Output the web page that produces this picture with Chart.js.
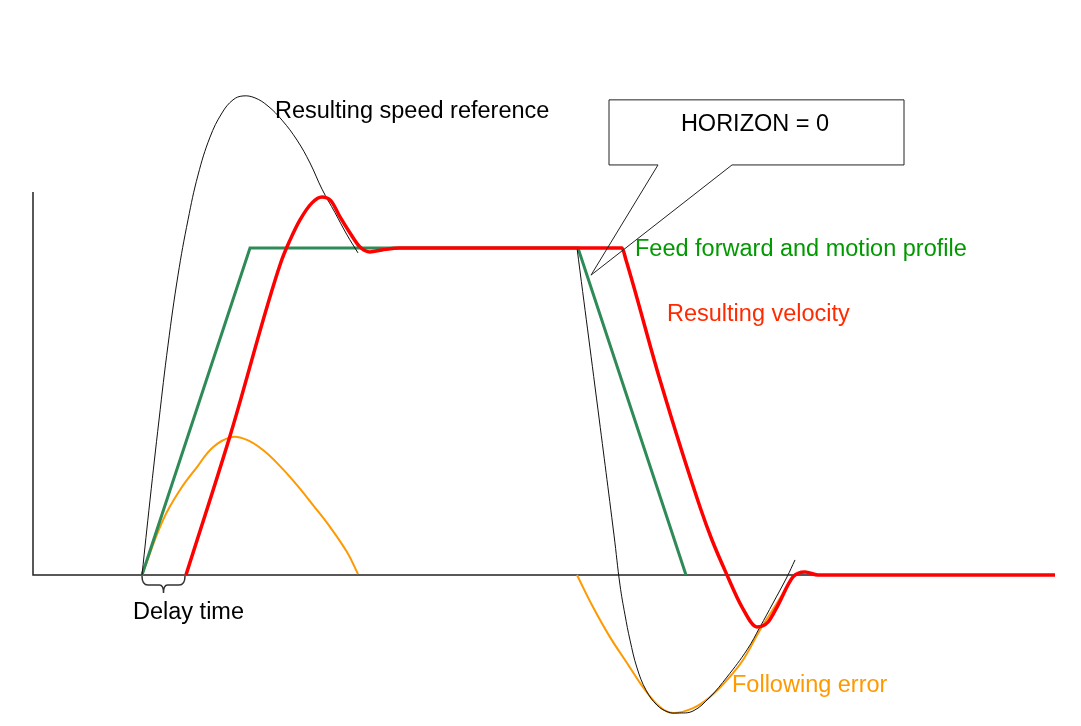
<!DOCTYPE html>
<html lang="en">
<head>
    <meta charset="UTF-8">
    <title>Feed forward, HORIZON = 0</title>
    <script src="https://cdn.jsdelivr.net/npm/chart.js@4.4.3/dist/chart.umd.min.js"></script>
    <style>
        html, body { margin: 0; padding: 0; background: #fff; }
        canvas { display: block; }
    </style>
</head>
<body>
    <canvas id="chart" width="1081" height="726"></canvas>

    <script>
        // time (arbitrary units) and velocity (1 = plateau speed)
        const feedT = [109, 217, 545, 653];
        const feedV = [0, 1, 1, 0];

        const velocityT = [153, 197, 248, 257, 267, 279, 289, 298, 307, 317, 327, 337, 349, 367,
                           589, 593, 627, 667, 679, 694, 709, 724, 735, 744, 760, 772, 785, 1022];
        const velocityV = [0, 0.425, 0.957, 1.024, 1.086, 1.138, 1.156, 1.144, 1.095, 1.046, 1.003, 0.988, 0.994, 1,
                           1, 0.963, 0.596, 0.208, 0.107, 0, -0.098, -0.159, -0.144, -0.098, -0.006, 0.009, 0, 0];

        // speed reference: accel part, gap (hidden under velocity), decel part
        const speedRefT = [109, 117, 126, 135, 145, 155, 165, 177, 189, 200, 210, 222, 235, 249, 264, 277, 289, 302, 314, 325,
                           null,
                           544, 565, 581, 587, 592, 597, 604, 613, 624, 635, 644, 660, 677, 694, 714, 727, 740, 754, 762];
        const speedRefV = [0, 0.229, 0.474, 0.703, 0.917, 1.086, 1.223, 1.339, 1.413, 1.453, 1.465, 1.459, 1.434, 1.391, 1.330, 1.260, 1.180, 1.108, 1.040, 0.985,
                           null,
                           1, 0.505, 0.122, -0.031, -0.122, -0.199, -0.284, -0.352, -0.398, -0.419, -0.422, -0.416, -0.373, -0.312, -0.229, -0.159, -0.086, -0.006, 0.046];

        const errorT = [109, 130, 147, 164, 180, 199, 214, 230, 247, 264, 280, 297, 314, 325,
                        null,
                        544, 560, 577, 594, 610, 627, 640, 660, 677, 694, 710, 727, 744, 760];
        const errorV = [0, 0.168, 0.260, 0.330, 0.391, 0.422, 0.413, 0.382, 0.333, 0.275, 0.214, 0.147, 0.070, 0.003,
                        null,
                        0, -0.098, -0.190, -0.269, -0.343, -0.404, -0.422, -0.407, -0.373, -0.321, -0.260, -0.168, -0.086, -0.006];

        const axisT = [0, 0, 1022];
        const axisV = [1.171, 0, 0];

        const textLabels = [
            { text: 'Resulting speed reference', t: 242, v: 1.398, color: '#000000', align: 'left' },
            { text: 'HORIZON = 0', t: 722, v: 1.358, color: '#000000', align: 'center' },
            { text: 'Feed forward and motion profile', t: 602, v: 0.976, color: '#009900', align: 'left' },
            { text: 'Resulting velocity', t: 634, v: 0.777, color: '#ff2a00', align: 'left' },
            { text: 'Following error', t: 699, v: -0.358, color: '#ff9900', align: 'left' },
            { text: 'Delay time', t: 100, v: -0.135, color: '#000000', align: 'left' }
        ];

        // callout box outline
        const calloutT = [576, 871, 871, 699, 558, 625, 576];
        const calloutV = [1.453, 1.453, 1.254, 1.254, 0.917, 1.254, 1.254];

        // delay brace spans from reference start to velocity start
        const braceT = [109, 152];

        function toPoints(ts, vs) {
            return ts.map((t, i) => (t === null ? { x: null, y: null } : { x: t, y: vs[i] }));
        }

        const overlayPlugin = {
            id: 'overlay',
            afterDatasetsDraw(chart) {
                const ctx = chart.ctx;
                const xs = chart.scales.x;
                const ys = chart.scales.y;

                // callout
                ctx.save();
                ctx.beginPath();
                calloutT.forEach((t, i) => {
                    const px = xs.getPixelForValue(t);
                    const py = ys.getPixelForValue(calloutV[i]);
                    if (i === 0) ctx.moveTo(px, py); else ctx.lineTo(px, py);
                });
                ctx.closePath();
                ctx.strokeStyle = '#222';
                ctx.lineWidth = 1;
                ctx.stroke();
                ctx.restore();

                // brace under the axis
                const x0 = xs.getPixelForValue(braceT[0]);
                const x1 = xs.getPixelForValue(braceT[1]);
                const y0 = ys.getPixelForValue(0) + 1;
                const xm = (x0 + x1) / 2;
                ctx.save();
                ctx.beginPath();
                ctx.moveTo(x0, y0);
                ctx.quadraticCurveTo(x0, y0 + 9, x0 + 6, y0 + 9);
                ctx.lineTo(xm - 4, y0 + 9);
                ctx.quadraticCurveTo(xm, y0 + 9, xm, y0 + 17);
                ctx.quadraticCurveTo(xm, y0 + 9, xm + 4, y0 + 9);
                ctx.lineTo(x1 - 6, y0 + 9);
                ctx.quadraticCurveTo(x1, y0 + 9, x1, y0);
                ctx.strokeStyle = '#333';
                ctx.lineWidth = 1.5;
                ctx.stroke();
                ctx.restore();

                // texts
                ctx.save();
                ctx.font = '23.5px "Liberation Sans", Arial, sans-serif';
                ctx.textBaseline = 'alphabetic';
                textLabels.forEach(l => {
                    ctx.fillStyle = l.color;
                    ctx.textAlign = l.align;
                    ctx.fillText(l.text, xs.getPixelForValue(l.t), ys.getPixelForValue(l.v));
                });
                ctx.restore();
            }
        };

        const whiteBg = {
            id: 'whiteBg',
            beforeDraw(chart) {
                const ctx = chart.ctx;
                ctx.save();
                ctx.fillStyle = '#ffffff';
                ctx.fillRect(0, 0, chart.width, chart.height);
                ctx.restore();
            }
        };

        new Chart(document.getElementById('chart'), {
            type: 'line',
            data: {
                datasets: [
                    {
                        label: 'Axes',
                        data: toPoints(axisT, axisV),
                        borderColor: '#222',
                        borderWidth: 1.5,
                        pointRadius: 0,
                        tension: 0,
                        order: 5
                    },
                    {
                        label: 'Following error',
                        data: toPoints(errorT, errorV),
                        borderColor: '#ff9900',
                        borderWidth: 2,
                        pointRadius: 0,
                        tension: 0.4,
                        spanGaps: false,
                        order: 4
                    },
                    {
                        label: 'Feed forward and motion profile',
                        data: toPoints(feedT, feedV),
                        borderColor: '#2e8b57',
                        borderWidth: 3,
                        pointRadius: 0,
                        tension: 0,
                        order: 3
                    },
                    {
                        label: 'Resulting speed reference',
                        data: toPoints(speedRefT, speedRefV),
                        borderColor: '#111',
                        borderWidth: 1,
                        pointRadius: 0,
                        tension: 0.4,
                        spanGaps: false,
                        order: 2
                    },
                    {
                        label: 'Resulting velocity',
                        data: toPoints(velocityT, velocityV),
                        borderColor: '#ff0000',
                        borderWidth: 3.5,
                        pointRadius: 0,
                        cubicInterpolationMode: 'monotone',
                        order: 1
                    }
                ]
            },
            options: {
                responsive: false,
                animation: false,
                layout: { padding: 0 },
                plugins: {
                    legend: { display: false },
                    tooltip: { enabled: false }
                },
                scales: {
                    x: { type: 'linear', min: -33, max: 1048, display: false },
                    y: { type: 'linear', min: -0.4618, max: 1.7584, display: false }
                }
            },
            plugins: [whiteBg, overlayPlugin]
        });
    </script>
</body>
</html>
